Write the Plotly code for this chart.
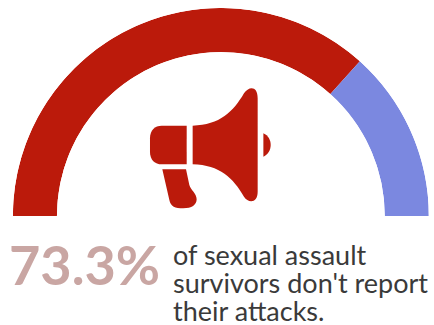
import plotly.graph_objects as go

W, H = 434, 325
labels = ["Don't report", "Report"]
shares = [73.3, 26.7]
colors = ["#bb1a0b", "#7b88e0"]
big_number = "73.3%"
caption = ["of sexual assault", "survivors don't report", "their attacks."]

def X(v):
    return v / W
def Y(v):
    return 1 - v / H
def zp(x, y):
    return f"{X(120 + x / 3):.4f},{Y(70 + y / 3):.4f}"
def path(cmds):
    out = []
    for c in cmds:
        out.append(c[0] + " ".join(zp(*p) for p in c[1:]))
    return " ".join(out) + " Z"

theta, width, start = [], [], 0.0
for s in shares:
    theta.append((start + s / 2) * 1.8)
    width.append(s * 1.8)
    start += s

fig = go.Figure(go.Barpolar(
    r=[100, 100], theta=theta, width=width, text=labels,
    marker=dict(color=colors, line=dict(width=0)), hoverinfo="text",
))

icon = [
    [("M", (200, 167)), ("L", (125, 167)), ("C", (105, 167), (90, 180), (90, 205)), ("L", (90, 245)),
     ("C", (90, 270), (105, 283), (125, 283)), ("L", (200, 283))],
    [("M", (218, 167)), ("C", (300, 165), (340, 125), (372, 70)), ("C", (385, 50), (413, 45), (413, 85)),
     ("L", (413, 365)), ("C", (413, 400), (385, 400), (372, 380)), ("C", (340, 325), (300, 285), (218, 283))],
    [("M", (430, 190)), ("C", (445, 197), (452, 210), (452, 225)), ("C", (452, 240), (445, 253), (430, 260))],
    [("M", (127, 298)), ("L", (198, 298)), ("L", (208, 345)), ("C", (212, 360), (230, 370), (230, 388)),
     ("C", (230, 405), (215, 415), (190, 415)), ("C", (165, 415), (152, 410), (148, 390))],
]
shapes = [dict(type="path", xref="paper", yref="paper", path=path(p),
               fillcolor=colors[0], line=dict(width=0)) for p in icon]

annotations = [dict(text=big_number, x=X(7), y=Y(264), xref="paper", yref="paper", xanchor="left",
                    yanchor="middle", showarrow=False,
                    font=dict(family="Lato", size=54, color="#c9a6a3", weight="bold"))]
for line, yp in zip(caption, [254, 282, 310]):
    annotations.append(dict(text=line, x=X(171), y=Y(yp), xref="paper", yref="paper", xanchor="left",
                            yanchor="middle", showarrow=False,
                            font=dict(family="Lato", size=27, color="#3a3a3a")))

fig.update_layout(
    width=W, height=H, margin=dict(l=0, r=0, t=0, b=0), showlegend=False,
    paper_bgcolor="white", plot_bgcolor="white",
    polar=dict(
        domain=dict(x=[X(12.7), X(429)], y=[Y(216), Y(8)]),
        sector=[0, 180], hole=0.788, bgcolor="white", bargap=0,
        radialaxis=dict(visible=False, range=[0, 100]),
        angularaxis=dict(visible=False, direction="clockwise", rotation=180),
    ),
    shapes=shapes, annotations=annotations,
)
fig.write_html("out.html", config=dict(displayModeBar=False),
               post_script="document.body.style.margin='0';document.body.style.overflow='hidden';")
